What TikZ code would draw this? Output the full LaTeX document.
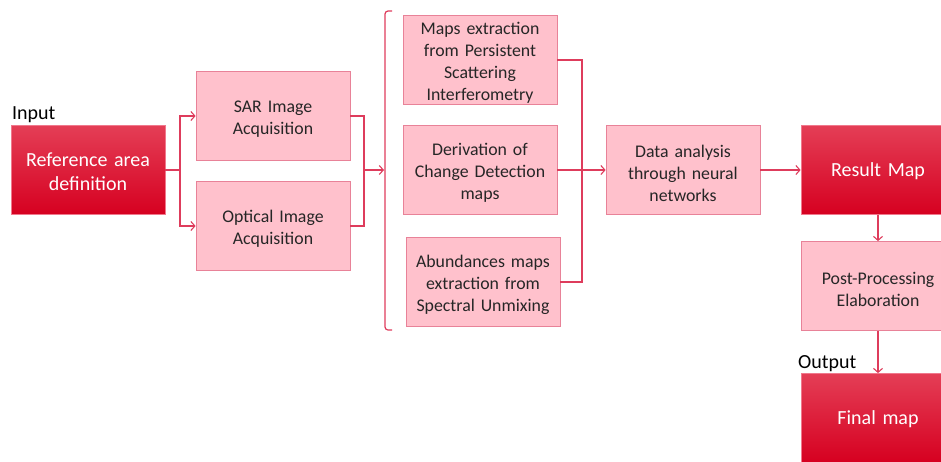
\documentclass[tikz,border=0pt]{standalone}
\usepackage{fontspec}
\setmainfont{Carlito}
\usetikzlibrary{arrows.meta,positioning}

\definecolor{boxpink}{RGB}{255,193,204}
\definecolor{boxpinkline}{RGB}{232,130,152}
\definecolor{redtop}{RGB}{228,62,86}
\definecolor{redbot}{RGB}{214,0,32}
\definecolor{redline}{RGB}{240,120,140}
\definecolor{linkcol}{RGB}{222,60,92}

\tikzset{
  pinkbox/.style={draw=boxpinkline, fill=boxpink, line width=0.8pt,
    minimum width=154pt, minimum height=89pt, inner sep=0pt,
    align=center, text width=150pt, font=\fontsize{17.8}{22}\selectfont, text=black!85,
    execute at end node={\par\vspace*{-6pt}}},
  redbox/.style={draw=redline, top color=redtop, bottom color=redbot, line width=0.8pt,
    minimum width=154pt, minimum height=89pt, inner sep=0pt,
    align=center, text width=150pt, font=\fontsize{20}{24}\selectfont, text=white,
    execute at end node={\par\vspace*{-4pt}}},
  iolabel/.style={anchor=west, inner sep=0pt, font=\fontsize{20}{24}\selectfont, text=black},
  link/.style={draw=linkcol, line width=1.1pt},
  arr/.style={link, -{Straight Barb[length=4pt,width=9pt,line width=1.1pt]}},
}

\begin{document}
\begin{tikzpicture}[x=1pt,y=-1pt]
  \useasboundingbox (0,0) rectangle (941,461);
  \clip (0,0) rectangle (941,461);

  % input stage
  \node[redbox]  (ref) at (88,170)  {Reference area\\definition};
  \node[iolabel] (inlab) at (12,115) {Input};

  % acquisition
  \node[pinkbox] (sar) at (273,116) {SAR Image\\Acquisition};
  \node[pinkbox] (opt) at (273,226) {Optical Image\\Acquisition};

  % processing branches
  \node[pinkbox] (psi) at (480,60)  {Maps extraction\\from Persistent\\Scattering\\Interferometry};
  \node[pinkbox] (cd)  at (480,170) {Derivation of\\Change Detection\\maps};
  \node[pinkbox] (su)  at (483,282) {Abundances maps\\extraction from\\Spectral Unmixing};

  % analysis and results
  \node[pinkbox] (nn)   at (683,170) {Data analysis\\through neural\\networks};
  \node[redbox]  (res)  at (878,170) {Result Map};
  \node[pinkbox] (post) at (878,286) {Post-Processing\\Elaboration};
  \node[redbox]  (fin)  at (878,418) {Final map};
  \node[iolabel] (outlab) at (798,364) {Output};

  % split from the reference area to both acquisitions
  \coordinate (split) at (180,170);
  \draw[link] (ref.east) -- (split);
  \draw[arr] (split) |- (sar.west);
  \draw[arr] (split) |- (opt.west);

  % merge of the two acquisitions
  \coordinate (merge) at (364,170);
  \draw[link] (sar.east) -| (merge);
  \draw[link] (opt.east) -| (merge);

  % brace grouping the three branches
  \coordinate (bracetip) at (384,170);
  \draw[arr] (merge) -- (bracetip);
  \draw[link, line width=1.2pt] (392,11) -- (388,11) to[out=180,in=90] (385,14)
     -- (385,327) to[out=-90,in=180] (388,330) -- (392,330);

  % merge of the three branches into the analysis
  \coordinate (join) at (582,170);
  \draw[link] (psi.east) -| (join);
  \draw[link] (su.east) -| (join);
  \draw[arr] (cd.east) -- (nn.west);

  % results chain
  \draw[arr] (nn.east) -- (res.west);
  \draw[arr] (res.south) -- (post.north);
  \draw[arr] (post.south) -- (fin.north);
\end{tikzpicture}
\end{document}
